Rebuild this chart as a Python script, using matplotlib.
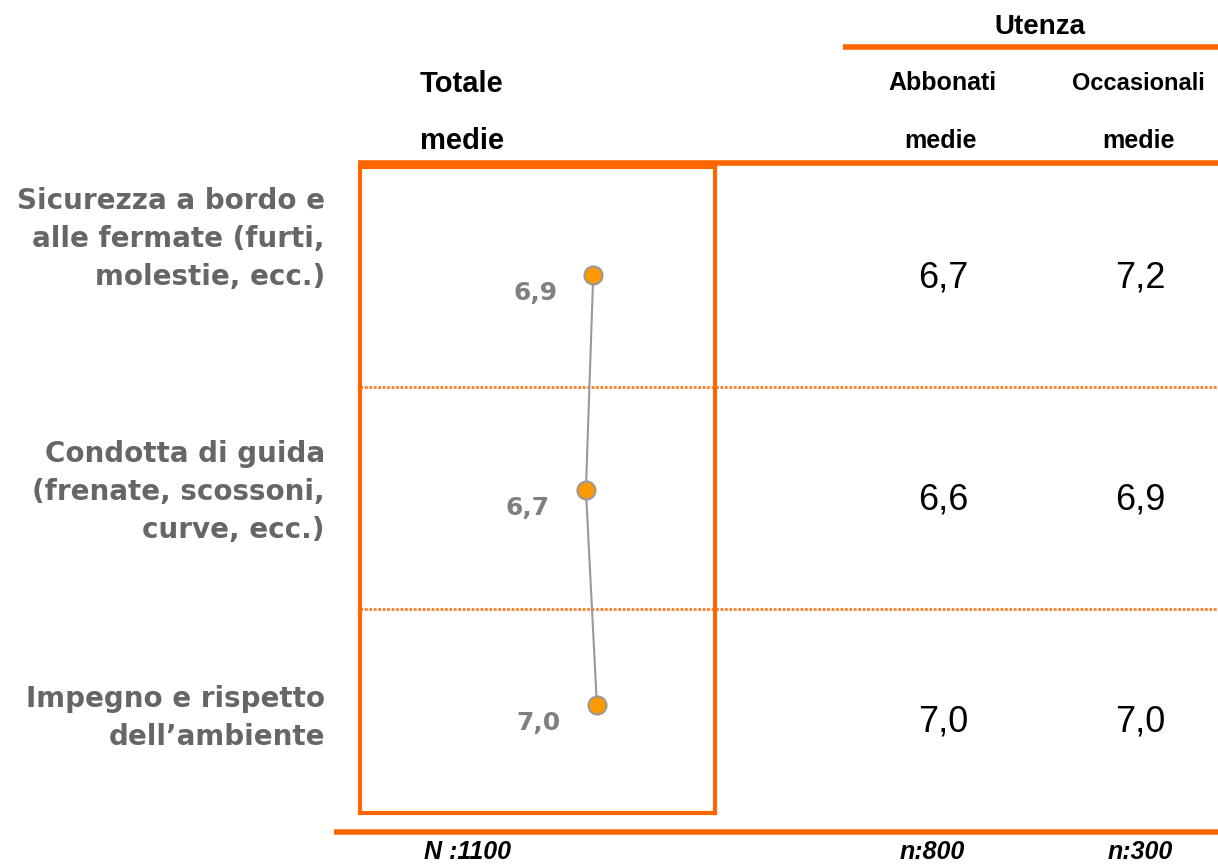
import matplotlib
matplotlib.use("Agg")
import matplotlib.pyplot as plt

# data
categories = [
    "Sicurezza a bordo e\nalle fermate (furti,\nmolestie, ecc.)",
    "Condotta di guida\n(frenate, scossoni,\ncurve, ecc.)",
    "Impegno e rispetto\ndell\u2019ambiente",
]
totale = [6.9, 6.7, 7.0]
abbonati = [6.7, 6.6, 7.0]
occasionali = [7.2, 6.9, 7.0]
footer = ["N :1100", "n:800", "n:300"]

ORANGE = "#FF6600"
W, H = 1218, 864


def fmt(v):
    return ("%.1f" % v).replace(".", ",")


def main():
    fig = plt.figure(figsize=(W / 100, H / 100), dpi=100)

    # background axes in pixel coords for the table layout
    bg = fig.add_axes([0, 0, 1, 1])
    bg.set_xlim(0, W)
    bg.set_ylim(H, 0)
    bg.axis("off")

    hdr = dict(family="Liberation Sans", weight="bold", color="black")
    bg.text(1040, 27, "Utenza", ha="center", va="center", fontsize=20, **hdr)
    bg.plot([843, W], [47, 47], color=ORANGE, lw=4, solid_capstyle="butt")
    bg.text(420, 84, "Totale", ha="left", va="center", fontsize=21, **hdr)
    bg.text(420, 141, "medie", ha="left", va="center", fontsize=21, **hdr)
    bg.text(942, 83, "Abbonati", ha="center", va="center", fontsize=18, **hdr)
    bg.text(1138, 83, "Occasionali", ha="center", va="center", fontsize=17, **hdr)
    bg.text(940, 141, "medie", ha="center", va="center", fontsize=18, **hdr)
    bg.text(1138, 141, "medie", ha="center", va="center", fontsize=18, **hdr)
    bg.plot([358, W], [163, 163], color=ORANGE, lw=4, solid_capstyle="butt")

    # row separators and bottom line
    for y in [387, 609]:
        bg.plot([360, W], [y, y], color=ORANGE, lw=2, ls=(0, (1, 0.6)), alpha=0.85)
    bg.plot([334, W], [832, 832], color=ORANGE, lw=4, solid_capstyle="butt")

    # category labels
    label_y = [239, 492, 718]
    for y, lab in zip(label_y, categories):
        bg.text(325, y, lab, ha="right", va="center", multialignment="right",
                fontsize=20, weight="bold", color="#666666", family="DejaVu Sans",
                linespacing=1.45)

    # table values
    for i in range(len(categories)):
        y = 278 + i * 222
        bg.text(943, y, fmt(abbonati[i]), ha="center", va="center", fontsize=26,
                family="Liberation Sans", color="black")
        bg.text(1140, y, fmt(occasionali[i]), ha="center", va="center", fontsize=26,
                family="Liberation Sans", color="black")

    # footer
    for x, t in zip([467, 932, 1140], footer):
        bg.text(x, 852, t, ha="center", va="center", fontsize=18, weight="bold",
                style="italic", family="Liberation Sans", color="black")

    # dot plot inside the orange box
    ax = fig.add_axes([360 / W, 1 - 813 / H, (715 - 360) / W, (813 - 167) / H])
    ax.set_xlim(0.54, 10.22)
    ax.set_ylim(2.5, -0.5)
    ax.set_xticks([])
    ax.set_yticks([])
    ax.patch.set_alpha(0)
    for s in ax.spines.values():
        s.set_color(ORANGE)
        s.set_linewidth(3)
    ypos = list(range(len(totale)))
    ax.plot(totale, ypos, color="#999999", lw=1.5, zorder=2)
    ax.plot(totale, ypos, "o", ms=13, mfc="#FF9900", mec="#999999", mew=1.5, zorder=3)
    for v, y in zip(totale, ypos):
        ax.annotate(fmt(v), (v, y), xytext=(-58, -18), textcoords="offset pixels",
                    ha="center", va="center", fontsize=18, weight="bold",
                    color="#808080", family="DejaVu Sans")

    fig.savefig("out.png", dpi=100)


if __name__ == '__main__':
    main()
